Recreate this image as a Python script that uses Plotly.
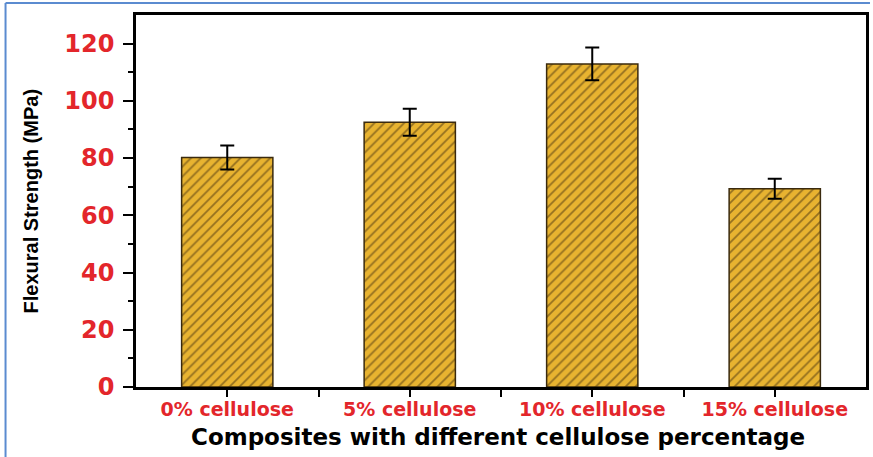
import plotly.graph_objects as go

categories = ["0% cellulose", "5% cellulose", "10% cellulose", "15% cellulose"]
strength = [80.2, 92.5, 112.9, 69.3]
errors = [4.2, 4.7, 5.7, 3.5]
y_ticks = [0, 20, 40, 60, 80, 100, 120]

RED = "#E3262B"
GOLD = "#E8B330"
HATCH = "#3F2C0E"

W, H = 873, 457
L, R, T, B = 136, 4, 15, 70
pw, ph = W - L - R, H - T - B

xs = list(range(len(categories)))

fig = go.Figure()
fig.add_trace(go.Bar(
    x=xs, y=strength, width=0.5,
    marker=dict(color=GOLD, line=dict(color="#3a2a0e", width=1.5),
                pattern=dict(shape="/", fgcolor=HATCH, size=7, solidity=0.25, fillmode="overlay")),
    error_y=dict(type="data", array=errors, visible=True, color="black", thickness=2, width=7),
    showlegend=False,
))

fig.update_layout(
    width=W, height=H,
    margin=dict(l=L, r=R, t=T, b=B),
    paper_bgcolor="white", plot_bgcolor="white",
    xaxis=dict(
        range=[-0.5, 3.5], tickmode="array", tickvals=xs, ticktext=categories,
        showline=True, linecolor="black", linewidth=2.5, mirror=True,
        ticks="outside", ticklen=7, tickwidth=2, tickcolor="black",
        minor=dict(tickmode="array", tickvals=[0.5, 1.5, 2.5], ticks="outside",
                   ticklen=7, tickwidth=2, tickcolor="black"),
        showgrid=False, zeroline=False, ticklabelstandoff=-4,
        tickfont=dict(family="DejaVu Sans", size=19, color=RED, weight="bold"),
    ),
    yaxis=dict(
        range=[0, 130], tickmode="array", tickvals=y_ticks,
        showline=True, linecolor="black", linewidth=2.5, mirror=True,
        ticks="outside", ticklen=10, tickwidth=2, tickcolor="black",
        minor=dict(tickmode="array", tickvals=[10, 30, 50, 70, 90, 110], ticks="outside",
                   ticklen=5, tickwidth=2, tickcolor="black"),
        showgrid=False, zeroline=False, ticklabelstandoff=4,
        tickfont=dict(family="DejaVu Sans", size=24, color=RED, weight="bold"),
    ),
)

fig.add_annotation(
    text="Flexural Strength (MPa)", textangle=-90, showarrow=False,
    xref="paper", yref="paper", x=(31 - L) / pw, y=0.5, xanchor="center", yanchor="middle",
    font=dict(family="Liberation Sans", size=20, color="black", weight="bold"),
)
fig.add_annotation(
    text="Composites with different cellulose percentage", showarrow=False,
    xref="paper", yref="paper", x=(499 - L) / pw, y=(T + ph - 437) / ph,
    xanchor="center", yanchor="middle",
    font=dict(family="DejaVu Sans", size=23, color="black", weight="bold"),
)

# blue frame of the original figure
fig.add_shape(type="line", xref="paper", yref="paper",
              x0=(5 - L) / pw, x1=(5 - L) / pw, y0=(T + ph - 3) / ph, y1=(T + ph - H) / ph,
              line=dict(color="#5B8BD0", width=2))
fig.add_shape(type="line", xref="paper", yref="paper",
              x0=(5 - L) / pw, x1=(W - L) / pw, y0=(T + ph - 3) / ph, y1=(T + ph - 3) / ph,
              line=dict(color="#5B8BD0", width=2))

fig.write_html("out.html", config={"displayModeBar": False},
               post_script="document.body.style.margin='0';document.body.style.overflow='hidden';")
